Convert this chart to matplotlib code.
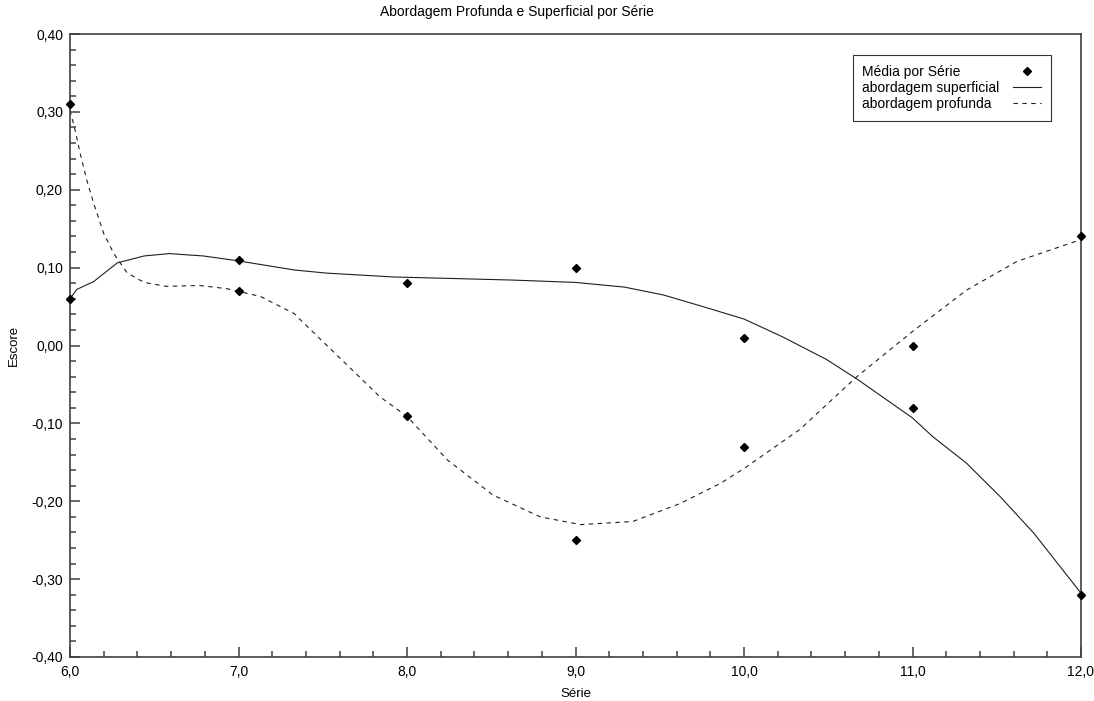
import matplotlib
matplotlib.use('Agg')
import matplotlib.pyplot as plt
from matplotlib.ticker import MultipleLocator, FuncFormatter

plt.rcParams['font.family'] = ['Liberation Sans', 'DejaVu Sans']

# Médias por série (pontos)
serie = [6, 7, 8, 9, 10, 11, 12]
media_superficial = [0.06, 0.11, 0.08, 0.10, 0.01, -0.08, -0.32]
media_profunda = [0.31, 0.07, -0.09, -0.25, -0.13, 0.00, 0.14]

# Curvas ajustadas
sup_curve_x = [6.00, 6.04, 6.14, 6.28, 6.44, 6.59, 6.79, 6.99, 7.33, 7.52, 7.92,
               8.28, 8.63, 9.00, 9.29, 9.52, 9.74, 10.00, 10.23, 10.49, 10.67,
               11.00, 11.12, 11.32, 11.52, 11.72, 12.00]
sup_curve_y = [0.060, 0.072, 0.082, 0.106, 0.115, 0.118, 0.115, 0.109, 0.097, 0.093, 0.088,
               0.086, 0.084, 0.081, 0.075, 0.065, 0.051, 0.034, 0.011, -0.018, -0.043,
               -0.093, -0.117, -0.151, -0.194, -0.241, -0.318]

prof_curve_x = [6.00, 6.03, 6.06, 6.10, 6.14, 6.20, 6.26, 6.34, 6.44, 6.57, 6.77,
                6.93, 7.13, 7.33, 7.41, 7.84, 8.00, 8.24, 8.51, 8.79, 9.03, 9.34,
                9.62, 9.86, 10.00, 10.33, 10.67, 11.00, 11.32, 11.62, 12.00]
prof_curve_y = [0.302, 0.277, 0.247, 0.212, 0.183, 0.144, 0.118, 0.093, 0.081, 0.076, 0.077,
                0.073, 0.063, 0.041, 0.024, -0.066, -0.091, -0.147, -0.192, -0.220, -0.230, -0.226,
                -0.203, -0.177, -0.158, -0.108, -0.040, 0.018, 0.071, 0.108, 0.136]

AXIS_COLOR = '#404040'

fig = plt.figure(figsize=(10.94, 7.01), dpi=100)
ax = fig.add_axes([70 / 1094, 1 - 657 / 701, 1011 / 1094, 623 / 701])

ax.plot(serie + serie, media_superficial + media_profunda, 'D', color='black',
        markersize=4.5, label='Média por Série', zorder=3, clip_on=False)
ax.plot(sup_curve_x, sup_curve_y, '-', color='#202020', linewidth=0.8,
        label='abordagem superficial')
ax.plot(prof_curve_x, prof_curve_y, color='#202020', linewidth=0.8,
        linestyle=(0, (4, 4)), label='abordagem profunda')

ax.set_xlim(6, 12)
ax.set_ylim(-0.4, 0.4)

ax.xaxis.set_major_locator(MultipleLocator(1))
ax.xaxis.set_minor_locator(MultipleLocator(0.2))
ax.yaxis.set_major_locator(MultipleLocator(0.1))
ax.yaxis.set_minor_locator(MultipleLocator(0.02))
ax.xaxis.set_major_formatter(FuncFormatter(lambda v, p: f'{v:.1f}'.replace('.', ',')))
ax.yaxis.set_major_formatter(FuncFormatter(lambda v, p: f'{v:.2f}'.replace('.', ',').replace('-0,00', '0,00')))

ax.tick_params(which='both', direction='in', color=AXIS_COLOR, width=1.1,
               labelsize=10, top=False, right=False)
ax.tick_params(which='major', length=7.5)
ax.tick_params(which='minor', length=4)
ax.tick_params(axis='x', pad=6)
ax.tick_params(axis='y', pad=5)

for sp in ax.spines.values():
    sp.set_color(AXIS_COLOR)
    sp.set_linewidth(1.2)

ax.set_xlabel('Série', fontsize=9.5, labelpad=6)
ax.set_ylabel('Escore', fontsize=9.5, labelpad=8)
fig.text(517 / 1094, 1 - 12 / 701, 'Abordagem Profunda e Superficial por Série',
         ha='center', va='center', fontsize=10)

leg = ax.legend(loc='upper right', bbox_to_anchor=(0.9703, 0.9663), markerfirst=False,
                fontsize=10, frameon=True, fancybox=False, borderpad=0.7,
                labelspacing=0.15, handlelength=2.0, handletextpad=1.0,
                borderaxespad=0)
leg.get_frame().set_edgecolor('black')
leg.get_frame().set_linewidth(0.8)

# texto alinhado à esquerda, símbolos à direita
fig.canvas.draw()
renderer = fig.canvas.get_renderer()
for col in leg._legend_handle_box.get_children():
    items = col.get_children()
    w = max(it.get_bbox(renderer).width for it in items)
    for it in items:
        it.mode = 'expand'
        it.width = w

fig.savefig('out.png', dpi=100)
